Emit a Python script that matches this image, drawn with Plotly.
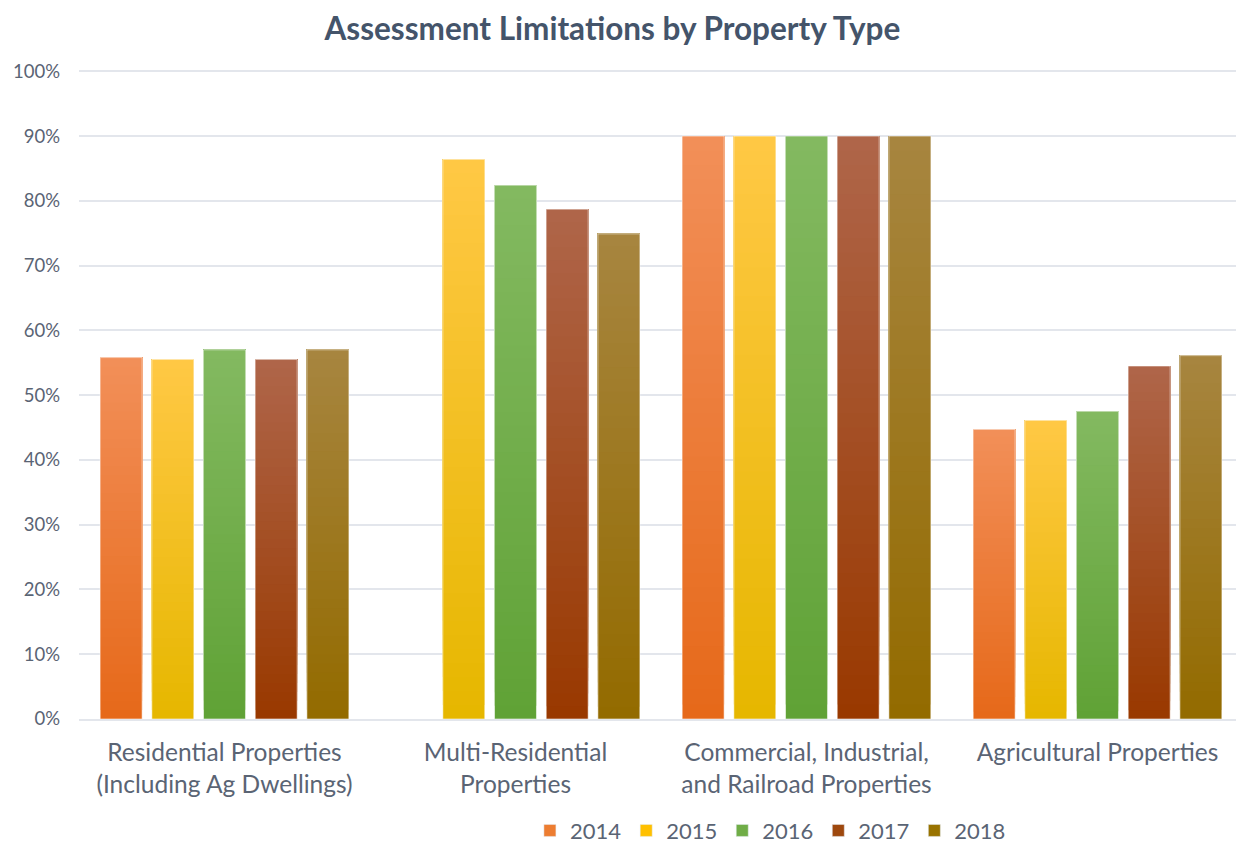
import plotly.graph_objects as go

categories = [
    "Residential Properties<br>(Including Ag Dwellings)",
    "Multi-Residential<br>Properties",
    "Commercial, Industrial,<br>and Railroad Properties",
    "Agricultural Properties",
]
years = ["2014", "2015", "2016", "2017", "2018"]
values = {
    "2014": [0.558, None, 0.90, 0.447],
    "2015": [0.555, 0.864, 0.90, 0.461],
    "2016": [0.570, 0.824, 0.90, 0.475],
    "2017": [0.555, 0.787, 0.90, 0.545],
    "2018": [0.570, 0.749, 0.90, 0.561],
}
legend_colors = {"2014": "#ED7D31", "2015": "#FFC000", "2016": "#70AD47",
                 "2017": "#9E480E", "2018": "#997300"}
top_colors = {"2014": "#F28F58", "2015": "#FFC844", "2016": "#83B960",
              "2017": "#AF6549", "2018": "#A7853F"}
bottom_colors = {"2014": "#E6691A", "2015": "#E6B700", "2016": "#60A236",
                 "2017": "#993900", "2018": "#936B00"}

def hex2rgb(h):
    h = h.lstrip("#")
    return [int(h[i:i + 2], 16) for i in (0, 2, 4)]

def mix(c1, c2, t):
    a, b = hex2rgb(c1), hex2rgb(c2)
    return "rgb(%d,%d,%d)" % tuple(round(a[i] + (b[i] - a[i]) * t) for i in range(3))

N = 40
fig = go.Figure()
for yr in years:
    vals = values[yr]
    for k in range(N):
        t = k / (N - 1)
        # each layer spans from its start to the bar top, so layers overlap (no seams)
        fig.add_trace(go.Bar(
            x=categories,
            y=[v * (N - k) / N if v is not None else None for v in vals],
            base=[v * k / N if v is not None else None for v in vals],
            offsetgroup=yr,
            marker=dict(color=mix(bottom_colors[yr], top_colors[yr], t), line=dict(width=0)),
            showlegend=False, hoverinfo="skip",
        ))
    # outline
    fig.add_trace(go.Bar(
        x=categories, y=vals, offsetgroup=yr,
        marker=dict(color="rgba(0,0,0,0)", line=dict(color="rgba(255,255,255,0.55)", width=1)),
        showlegend=False, hoverinfo="skip",
    ))
    # legend entry
    fig.add_trace(go.Bar(
        x=categories, y=[None] * len(categories), offsetgroup=yr, name=yr,
        marker=dict(color=legend_colors[yr]), showlegend=True,
    ))

text_color = "#5A6474"
fig.update_layout(
    width=1236, height=836,
    barmode="group", bargap=0.112, bargroupgap=0.188,
    plot_bgcolor="white", paper_bgcolor="white",
    font=dict(family="Lato, Carlito, sans-serif", color=text_color),
    title=dict(text="<b>Assessment Limitations by Property Type</b>",
               x=0.489, xanchor="center", y=0.975, yanchor="middle",
               font=dict(size=31.5, color="#44546A")),
    margin=dict(l=71, r=1, t=62, b=125, autoexpand=False),
    xaxis=dict(showgrid=False, showline=True, linecolor="#E3E6EC", linewidth=1.5,
               tickfont=dict(size=24.5, color=text_color), ticks="", automargin=False,
               ticklabelstandoff=11),
    yaxis=dict(range=[0, 1.002], tickvals=[i / 10 for i in range(11)], tickformat=".0%",
               showgrid=True, gridcolor="#E3E6EC", gridwidth=1.5, zeroline=False,
               tickfont=dict(size=18.5, color=text_color), ticklabelstandoff=18,
               automargin=False),
    legend=dict(orientation="h", x=0.594, xanchor="center", y=-0.172, yanchor="middle",
                font=dict(size=22, color=text_color), traceorder="normal",
                itemwidth=30),
)
fig.write_html("out.html")
